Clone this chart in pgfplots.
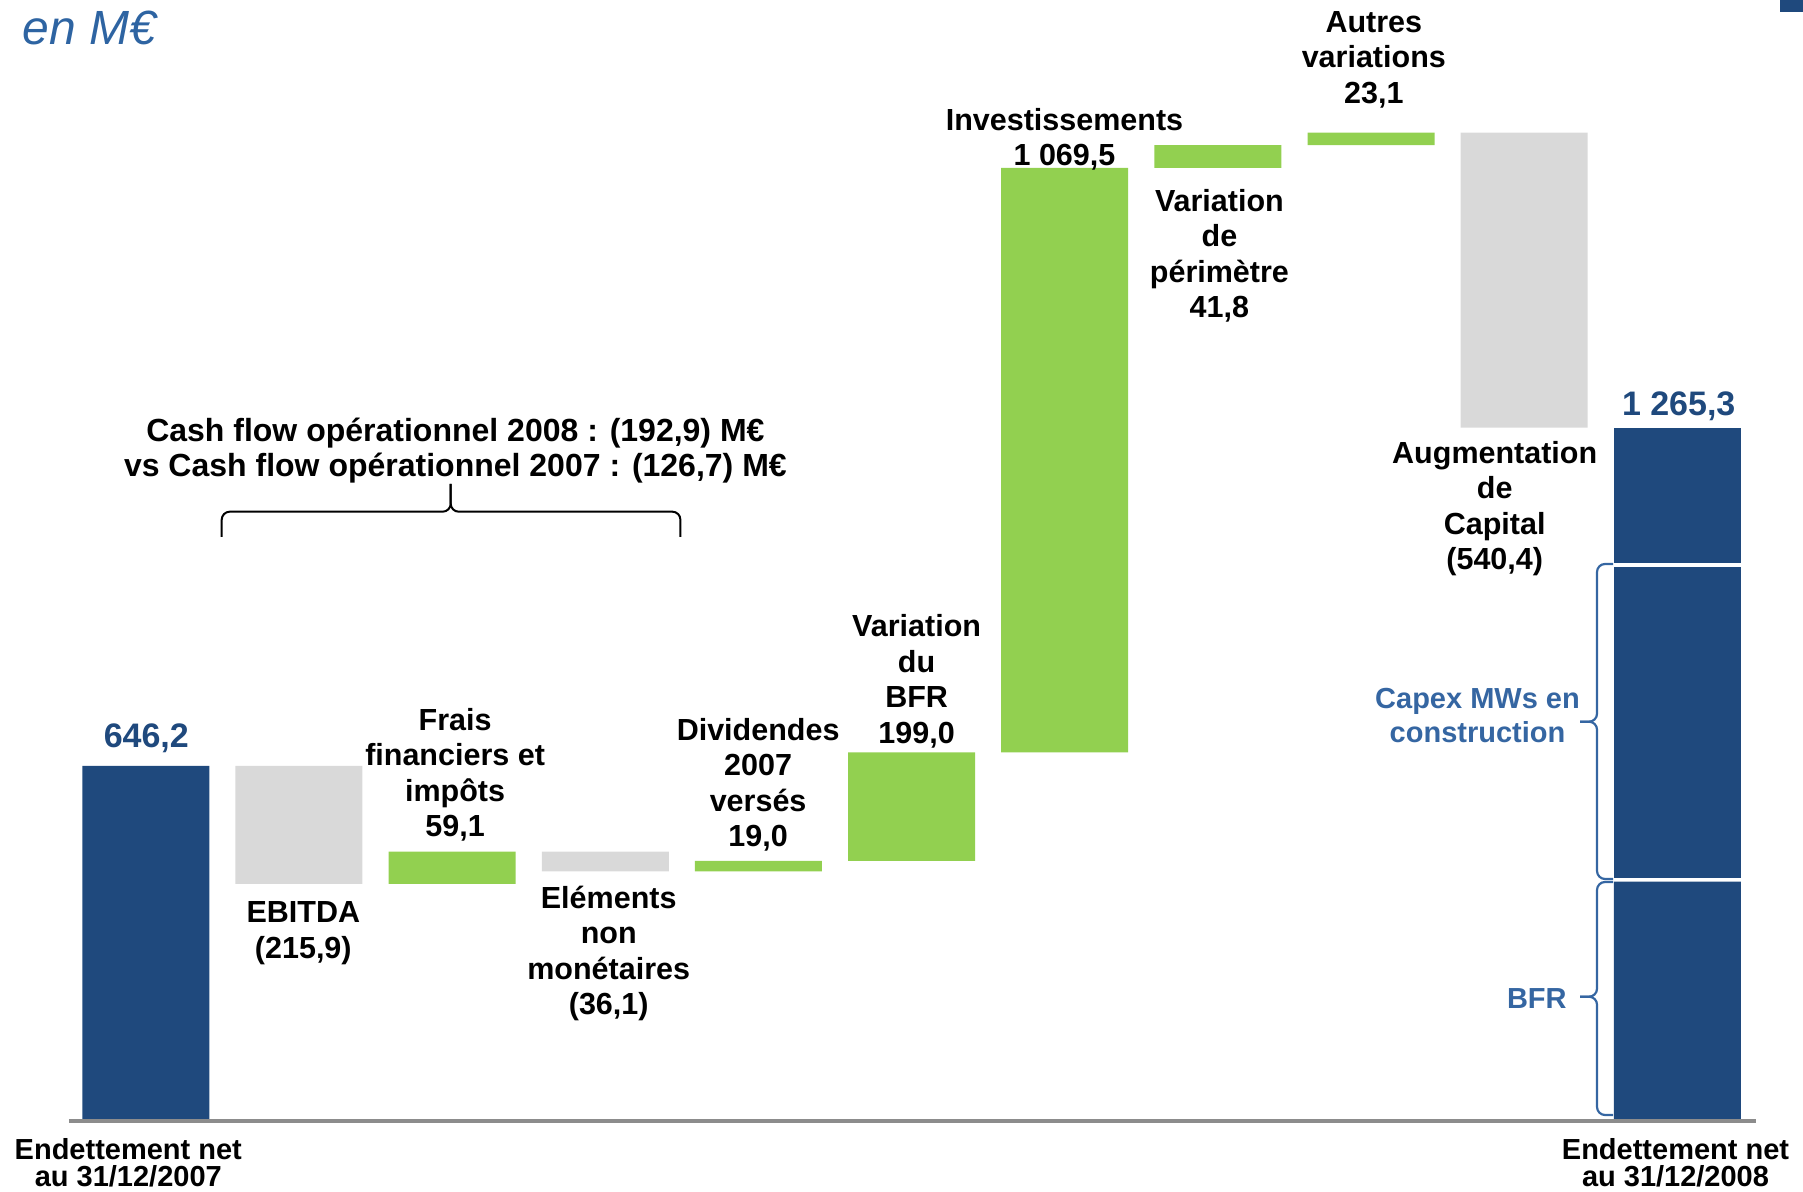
\documentclass[border=0pt]{standalone}
\usepackage{fontspec}
\setmainfont{Liberation Sans}
\usepackage{pgfplots}
\pgfplotsset{compat=1.18}
\definecolor{navy}{HTML}{1F497D}
\definecolor{vert}{HTML}{92D050}
\definecolor{gris}{HTML}{D9D9D9}
\definecolor{bleu}{HTML}{3566A2}
\definecolor{titre}{HTML}{2E64A2}
\definecolor{axe}{HTML}{8C8C8C}
\newcommand\tb[1]{\begin{tabular}[b]{@{}c@{}}#1\end{tabular}}
\begin{document}
\begin{tikzpicture}
\begin{axis}[at={(34.5pt,35.35pt)}, anchor=south west, scale only axis,
  width=843.35pt, height=560.65pt,
  xmin=-0.5015, xmax=10.512, ymin=-4.2, ymax=2048.3,
  ybar stacked, bar width=63.5pt,
  axis x line=bottom, axis y line=none,
  x axis line style={draw=axe, line width=2pt, -},
  xtick=\empty, ytick=\empty, clip=false, axis on top]
% invisible base of the floating bars
\addplot[draw=none, fill=none] coordinates {(0,0) (1,430.3) (2,430.3) (3,453.3) (4,453.3) (5,472.3) (6,671.3) (7,1740.8) (8,1782.6) (9,1265.3) (10,0)};
% net debt (segments of the 2008 bar)
\addplot[draw=none, fill=navy] coordinates {(0,646.2) (1,0) (2,0) (3,0) (4,0) (5,0) (6,0) (7,0) (8,0) (9,0) (10,434.3)};
\addplot[draw=none, fill=none] coordinates {(0,0) (1,0) (2,0) (3,0) (4,0) (5,0) (6,0) (7,0) (8,0) (9,0) (10,7.3)};
\addplot[draw=none, fill=navy] coordinates {(0,0) (1,0) (2,0) (3,0) (4,0) (5,0) (6,0) (7,0) (8,0) (9,0) (10,568.8)};
\addplot[draw=none, fill=none] coordinates {(0,0) (1,0) (2,0) (3,0) (4,0) (5,0) (6,0) (7,0) (8,0) (9,0) (10,7.3)};
\addplot[draw=none, fill=navy] coordinates {(0,0) (1,0) (2,0) (3,0) (4,0) (5,0) (6,0) (7,0) (8,0) (9,0) (10,247.6)};
% decreases (grey)
\addplot[draw=none, fill=gris] coordinates {(0,0) (1,215.9) (2,0) (3,36.1) (4,0) (5,0) (6,0) (7,0) (8,0) (9,540.4) (10,0)};
% increases (green)
\addplot[draw=none, fill=vert] coordinates {(0,0) (1,0) (2,59.1) (3,0) (4,19.0) (5,199.0) (6,1069.5) (7,41.8) (8,23.1) (9,0) (10,0)};
\end{axis}
\begin{scope}[x=0.5pt,y=-0.5pt,shift={(0pt,596pt)}]
\tikzset{lab/.style={inner sep=0pt, anchor=base, font=\fontsize{15.25pt}{17.75pt}\selectfont\bfseries},
  num/.style={inner sep=0pt, anchor=base, text=navy, font=\fontsize{17pt}{20pt}\selectfont\bfseries},
  bot/.style={inner sep=0pt, anchor=base, font=\fontsize{14.5pt}{17pt}\selectfont\bfseries},
  blab/.style={inner sep=0pt, text=bleu, font=\fontsize{14.5pt}{17.2pt}\selectfont\bfseries}}
\node[inner sep=0pt, anchor=base west, text=titre, font=\fontsize{24pt}{28pt}\selectfont\itshape] at (22,45) {en M€};
\fill[navy] (1780,0) rectangle (1803,12);
\node[num] at (146.3,747.3) {646,2};
\node[num] at (1678.7,416) {1 265,3};
\node[lab] at (303.3,958.3) {\tb{EBITDA\\(215,9)}};
\node[lab] at (455.1,836.7) {\tb{Frais\\financiers et\\impôts\\59,1}};
\node[lab] at (608.7,1015) {\tb{Eléments\\non\\monétaires\\(36,1)}};
\node[lab] at (758.1,846.7) {\tb{Dividendes\\2007\\versés\\19,0}};
\node[lab] at (916.6,743.3) {\tb{Variation\\du\\BFR\\199,0}};
\node[lab] at (1064.5,165.7) {\tb{Investissements\\1 069,5}};
\node[lab] at (1219.4,318) {\tb{Variation\\de\\périmètre\\41,8}};
\node[lab] at (1373.8,103.3) {\tb{Autres\\variations\\23,1}};
\node[lab] at (1494.7,570) {\tb{Augmentation\\de\\Capital\\(540,4)}};
\node[inner sep=0pt, anchor=base, font=\fontsize{16pt}{17.5pt}\selectfont\bfseries] at (455.4,476.7)
  {\tb{Cash flow opérationnel 2008 : (192,9) M€\\vs Cash flow opérationnel 2007 : (126,7) M€}};
% brace under the cash-flow text
\draw[line width=1pt, rounded corners=4pt] (221.7,537) -- (221.7,511.7) -- (450.7,511.7) -- (450.7,484);
\draw[line width=1pt, rounded corners=4pt] (680.4,537) -- (680.4,511.7) -- (450.7,511.7) -- (450.7,484);
% blue braces beside the 2008 bar
\node[blab, anchor=base] at (1477.5,742.7) {\begin{tabular}[b]{@{}c@{}}Capex MWs en\\construction\end{tabular}};
\node[blab, anchor=base east] at (1567,1008.3) {BFR};
\draw[bleu, line width=1.1pt, rounded corners=4pt] (1613,564) -- (1597,564) -- (1597,721.7) -- (1580,721.7);
\draw[bleu, line width=1.1pt, rounded corners=4pt] (1613,879) -- (1597,879) -- (1597,721.7) -- (1580,721.7);
\draw[bleu, line width=1.1pt, rounded corners=4pt] (1613,882) -- (1597,882) -- (1597,996.7) -- (1580,996.7);
\draw[bleu, line width=1.1pt, rounded corners=4pt] (1613,1115) -- (1597,1115) -- (1597,996.7) -- (1580,996.7);
\node[bot] at (128.3,1160) {Endettement net};
\node[bot] at (128.3,1187) {au 31/12/2007};
\node[bot] at (1675.5,1160) {Endettement net};
\node[bot] at (1675.5,1187) {au 31/12/2008};
\end{scope}
\pgfresetboundingbox
\path (0,0) rectangle (901.5pt,596pt);
\end{tikzpicture}
\end{document}
